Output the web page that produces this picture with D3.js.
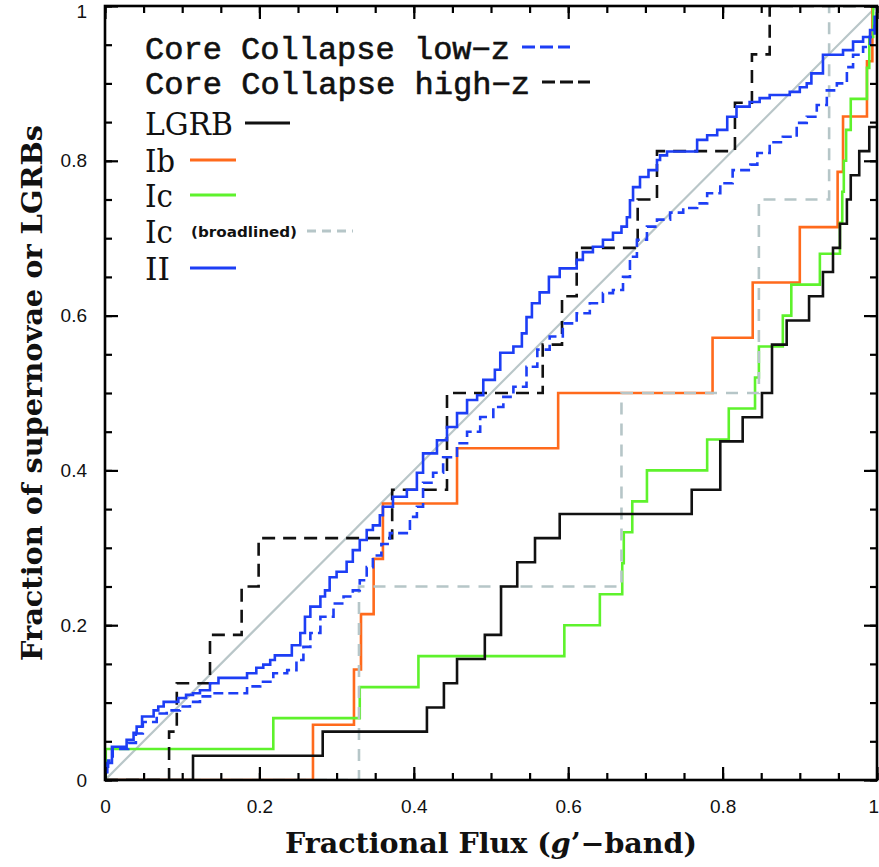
<!DOCTYPE html>
<html>
<head>
<meta charset="utf-8">
<script src="https://cdnjs.cloudflare.com/ajax/libs/d3/7.8.5/d3.min.js"></script>
<style>
  html, body { margin: 0; padding: 0; background: #fff; }
  svg { display: block; }
</style>
</head>
<body>
<svg id="chart"></svg>
<script>
// sorted fractional fluxes
const lgrbFlux = [0.114, 0.282, 0.417, 0.439, 0.456, 0.492, 0.513, 0.513, 0.534, 0.557,
                  0.589, 0.760, 0.797, 0.797, 0.826, 0.851, 0.864, 0.864, 0.883, 0.912,
                  0.930, 0.943, 0.952, 0.961, 0.966, 0.977, 0.990];
const lgrbTotal = 32;

const ibFlux = [0.2694, 0.3225, 0.3316, 0.348, 0.360, 0.456, 0.587, 0.787, 0.839, 0.900,
                0.949, 0.956, 0.987, 0.994];

const icFlux = [0.001, 0.218, 0.330, 0.406, 0.595, 0.641, 0.670, 0.672, 0.683, 0.702,
                0.780, 0.808, 0.842, 0.847, 0.878, 0.889, 0.926, 0.952, 0.955, 0.957,
                0.960, 0.966, 0.987, 0.990, 0.995];

const icBLFlux = [0.329, 0.669, 0.847, 0.938];

const highzFlux = [0.083, 0.093, 0.136, 0.177, 0.199, 0.372, 0.443, 0.443, 0.567, 0.592,
                   0.611, 0.690, 0.715, 0.816, 0.838, 0.861];

// large samples: step corners (flux, cumulative fraction)
const iiFlux = [0.000, 0.003, 0.009, 0.028, 0.037, 0.041, 0.048, 0.063, 0.069, 0.076,
                0.095, 0.105, 0.114, 0.123, 0.136, 0.147, 0.184, 0.196, 0.205, 0.214,
                0.220, 0.242, 0.253, 0.259, 0.266, 0.279, 0.285, 0.291, 0.300, 0.313,
                0.321, 0.330, 0.339, 0.347, 0.356, 0.360, 0.373, 0.391, 0.404, 0.412,
                0.430, 0.443, 0.456, 0.469, 0.482, 0.490, 0.505, 0.512, 0.529, 0.540,
                0.546, 0.553, 0.563, 0.575, 0.589, 0.611, 0.619, 0.632, 0.645, 0.658,
                0.669, 0.676, 0.680, 0.684, 0.693, 0.704, 0.715, 0.719, 0.728, 0.767,
                0.780, 0.793, 0.806, 0.818, 0.835, 0.848, 0.861, 0.887, 0.900, 0.909,
                0.915, 0.930, 0.956, 0.969, 0.982, 0.991, 0.997, 1.000];
const iiFrac = [0.010, 0.022, 0.043, 0.052, 0.061, 0.069, 0.082, 0.090, 0.095, 0.101,
                0.106, 0.110, 0.112, 0.116, 0.125, 0.132, 0.138, 0.145, 0.149, 0.155,
                0.161, 0.174, 0.190, 0.211, 0.224, 0.237, 0.245, 0.262, 0.269, 0.282,
                0.297, 0.310, 0.323, 0.329, 0.342, 0.353, 0.366, 0.375, 0.397, 0.422,
                0.439, 0.456, 0.474, 0.491, 0.497, 0.517, 0.530, 0.552, 0.560, 0.577,
                0.598, 0.616, 0.630, 0.650, 0.661, 0.672, 0.682, 0.689, 0.698, 0.707,
                0.715, 0.727, 0.749, 0.766, 0.779, 0.788, 0.801, 0.807, 0.812, 0.827,
                0.833, 0.840, 0.857, 0.870, 0.876, 0.881, 0.885, 0.889, 0.895, 0.900,
                0.913, 0.937, 0.943, 0.954, 0.960, 0.969, 0.986, 1.000];

const lowzFlux = [0.000, 0.004, 0.010, 0.030, 0.040, 0.049, 0.067, 0.080, 0.097, 0.110,
                  0.123, 0.140, 0.184, 0.201, 0.218, 0.236, 0.248, 0.257, 0.266, 0.279,
                  0.296, 0.309, 0.321, 0.330, 0.339, 0.347, 0.358, 0.369, 0.395, 0.404,
                  0.412, 0.425, 0.438, 0.456, 0.469, 0.486, 0.503, 0.516, 0.529, 0.546,
                  0.560, 0.576, 0.593, 0.611, 0.628, 0.645, 0.658, 0.671, 0.680, 0.689,
                  0.702, 0.715, 0.732, 0.749, 0.767, 0.780, 0.797, 0.813, 0.836, 0.845,
                  0.861, 0.878, 0.896, 0.909, 0.922, 0.935, 0.948, 0.961, 0.969, 0.982,
                  0.991, 0.997, 1.000];
const lowzFrac = [0.010, 0.025, 0.040, 0.048, 0.060, 0.075, 0.086, 0.090, 0.095, 0.101,
                  0.108, 0.112, 0.121, 0.127, 0.138, 0.142, 0.155, 0.172, 0.190, 0.211,
                  0.228, 0.237, 0.245, 0.258, 0.275, 0.290, 0.305, 0.319, 0.340, 0.353,
                  0.384, 0.397, 0.417, 0.435, 0.450, 0.469, 0.482, 0.495, 0.508, 0.534,
                  0.556, 0.573, 0.590, 0.603, 0.616, 0.629, 0.633, 0.650, 0.676, 0.698,
                  0.715, 0.724, 0.733, 0.739, 0.745, 0.758, 0.771, 0.788, 0.795, 0.810,
                  0.824, 0.831, 0.849, 0.857, 0.872, 0.891, 0.900, 0.921, 0.937, 0.947,
                  0.960, 0.982, 1.000];

const tickValues = [0, 0.2, 0.4, 0.6, 0.8, 1];
const minorTicks = d3.range(0, 1.0001, 0.05);

const legendLabels = ["Core Collapse low-z", "Core Collapse high-z", "LGRB", "Ib", "Ic", "Ic", "II"];

const svgWidth = 879;
const svgHeight = 867;
const margin = { top: 6, right: 2, bottom: 87, left: 105 };
const width = svgWidth - margin.left - margin.right;
const height = svgHeight - margin.top - margin.bottom;

const svg = d3.select("#chart")
    .attr("width", svgWidth)
    .attr("height", svgHeight);

const g = svg.append("g")
    .attr("transform", `translate(${margin.left},${margin.top})`);

const x = d3.scaleLinear().domain([0, 1]).range([0, width]);
const y = d3.scaleLinear().domain([0, 1]).range([height, 0]);

svg.append("defs").append("clipPath").attr("id", "plotclip")
    .append("rect").attr("width", width).attr("height", height);

// cumulative step points from sorted fluxes
function cdf(values, total) {
    const pts = [[0, 0]];
    values.forEach((v, i) => pts.push([v, (i + 1) / total]));
    pts.push([1, values.length / total]);
    return pts;
}
function corners(xs, ys) {
    const pts = [[0, 0]];
    xs.forEach((v, i) => pts.push([v, ys[i]]));
    pts.push([1, ys[ys.length - 1]]);
    return pts;
}

const step = d3.line()
    .x(d => x(d[0]))
    .y(d => y(d[1]))
    .curve(d3.curveStepAfter);

const plot = g.append("g").attr("clip-path", "url(#plotclip)");

// one-to-one line
plot.append("line")
    .attr("x1", x(0)).attr("y1", y(0))
    .attr("x2", x(1)).attr("y2", y(1))
    .attr("stroke", "#b9c6c8")
    .attr("stroke-width", 2.2);

const curves = [
    { pts: cdf(ibFlux, ibFlux.length), color: "#ff6a1c", dash: null },
    { pts: cdf(icFlux, icFlux.length), color: "#5ef22c", dash: null },
    { pts: cdf(icBLFlux, icBLFlux.length), color: "#b6c6c8", dash: "12,9" },
    { pts: cdf(lgrbFlux, lgrbTotal), color: "#111", dash: null },
    { pts: cdf(highzFlux, highzFlux.length), color: "#111", dash: "13,8" },
    { pts: corners(lowzFlux, lowzFrac), color: "#1d3ef5", dash: "10,5" },
    { pts: corners(iiFlux, iiFrac), color: "#1d3ef5", dash: null }
];

curves.forEach(c => {
    plot.append("path")
        .attr("d", step(c.pts))
        .attr("fill", "none")
        .attr("stroke", c.color)
        .attr("stroke-width", 2.6)
        .attr("stroke-dasharray", c.dash);
});

// axes with inward ticks on all four sides
const fmt = d => (d === 0 || d === 1) ? String(d) : d.toFixed(1);

const xLabels = g.append("g").attr("transform", `translate(0,${height})`)
    .call(d3.axisBottom(x).tickValues(tickValues).tickSize(-13).tickPadding(20).tickFormat(fmt));
const yLabels = g.append("g")
    .call(d3.axisLeft(y).tickValues(tickValues).tickSize(-13).tickPadding(18).tickFormat(fmt));

const axes = [
    xLabels, yLabels,
    g.append("g").attr("transform", `translate(0,${height})`)
        .call(d3.axisBottom(x).tickValues(minorTicks).tickSize(-7).tickFormat("")),
    g.append("g")
        .call(d3.axisTop(x).tickValues(minorTicks).tickSize(-7).tickFormat("")),
    g.append("g")
        .call(d3.axisTop(x).tickValues(tickValues).tickSize(-13).tickFormat("")),
    g.append("g")
        .call(d3.axisLeft(y).tickValues(minorTicks).tickSize(-7).tickFormat("")),
    g.append("g").attr("transform", `translate(${width},0)`)
        .call(d3.axisRight(y).tickValues(minorTicks).tickSize(-7).tickFormat("")),
    g.append("g").attr("transform", `translate(${width},0)`)
        .call(d3.axisRight(y).tickValues(tickValues).tickSize(-13).tickFormat(""))
];

axes.forEach(a => {
    a.select(".domain").remove();
    a.selectAll(".tick line").attr("stroke", "#000").attr("stroke-width", 2.2);
    a.selectAll("text")
        .attr("fill", "#111")
        .style("font-family", "'Liberation Sans', Arial, sans-serif")
        .style("font-size", "19px");
});

// keep the end labels inside the page
yLabels.selectAll(".tick").filter(d => d === 1).select("text").attr("dy", "0.62em");
xLabels.selectAll(".tick").filter(d => d === 1).select("text").attr("dx", "-0.2em");

g.append("rect")
    .attr("width", width)
    .attr("height", height)
    .attr("fill", "none")
    .attr("stroke", "#000")
    .attr("stroke-width", 2.6);

// axis titles
svg.append("text")
    .attr("x", margin.left + width / 2)
    .attr("y", 853)
    .attr("text-anchor", "middle")
    .attr("textLength", 412)
    .attr("lengthAdjust", "spacingAndGlyphs")
    .style("font-family", "'DejaVu Serif', serif")
    .style("font-weight", "bold")
    .style("font-size", "27px")
    .attr("fill", "#111")
    .html("Fractional Flux (<tspan font-style='italic'>g</tspan>\u2019\u2212band)");

svg.append("text")
    .attr("transform", `translate(42,${margin.top + height / 2}) rotate(-90)`)
    .attr("text-anchor", "middle")
    .attr("textLength", 536)
    .attr("lengthAdjust", "spacingAndGlyphs")
    .style("font-family", "'DejaVu Serif', serif")
    .style("font-weight", "bold")
    .style("font-size", "27px")
    .attr("fill", "#111")
    .text("Fraction of supernovae or LGRBs");

// legend
const legend = svg.append("g");
const legendRows = [
    { base: 59, mono: true, len: 365, color: "#1d3ef5", dash: "13,5", sx: 522, sw: 48 },
    { base: 94, mono: true, len: 385, color: "#111", dash: "13,5", sx: 542, sw: 48 },
    { base: 135, mono: false, len: 88, color: "#111", dash: null, sx: 245, sw: 45 },
    { base: 172, mono: false, len: 30, color: "#ff6a1c", dash: null, sx: 190, sw: 46 },
    { base: 207, mono: false, len: 28, color: "#5ef22c", dash: null, sx: 190, sw: 46 },
    { base: 243, mono: false, len: 28, color: "#b6c6c8", dash: "9,6", sx: 307, sw: 46 },
    { base: 280, mono: false, len: 25, color: "#1d3ef5", dash: null, sx: 190, sw: 46 }
];

legendLabels.forEach((label, i) => {
    const r = legendRows[i];
    legend.append("text")
        .attr("x", 145)
        .attr("y", r.base)
        .attr("textLength", r.len)
        .attr("lengthAdjust", "spacingAndGlyphs")
        .style("font-family", r.mono ? "'Liberation Mono', monospace" : "'DejaVu Serif', serif")
        .style("font-size", r.mono ? "31px" : "31px")
        .attr("fill", "#111")
        .attr("stroke", r.mono ? "#111" : "none")
        .attr("stroke-width", 0.6)
        .text(label.replace("-", "\u2212"));
    legend.append("line")
        .attr("x1", r.sx).attr("x2", r.sx + r.sw)
        .attr("y1", r.base - 12).attr("y2", r.base - 12)
        .attr("stroke", r.color)
        .attr("stroke-width", 3)
        .attr("stroke-dasharray", r.dash);
});

legend.append("text")
    .attr("x", 191)
    .attr("y", 237)
    .attr("textLength", 106)
    .attr("lengthAdjust", "spacingAndGlyphs")
    .style("font-family", "'DejaVu Sans', sans-serif")
    .style("font-weight", "bold")
    .style("font-size", "14px")
    .attr("fill", "#111")
    .text("(broadlined)");
</script>
</body>
</html>
